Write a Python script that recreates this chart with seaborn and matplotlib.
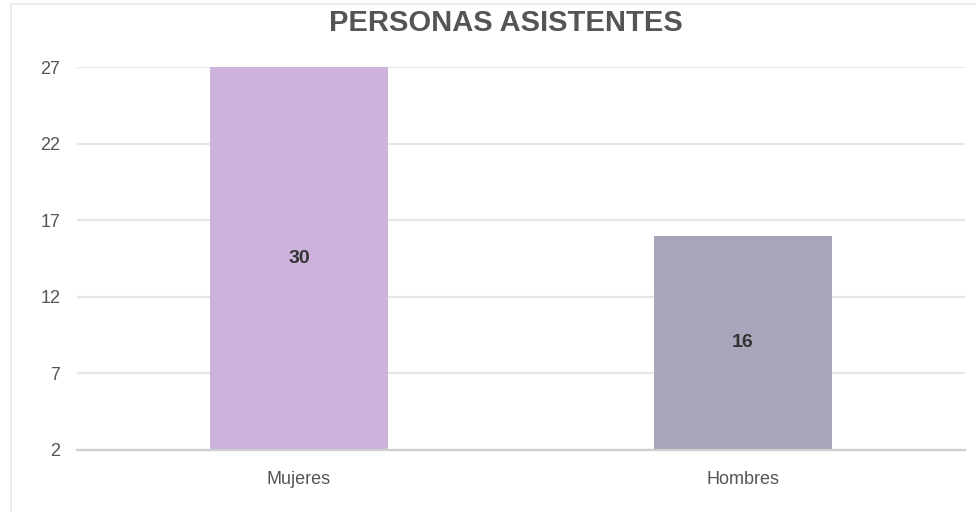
import matplotlib.pyplot as plt
import pandas as pd
import seaborn as sns
from matplotlib.lines import Line2D

# Data
categories = ["Mujeres", "Hombres"]
values = [30, 16]
bar_colors = ["#cdb3dc", "#a8a5ba"]
y_ticks = [2, 7, 12, 17, 22, 27]
y_min, y_max = 2, 27

sns.set_theme(style="white")
plt.rcParams["font.family"] = ["Liberation Sans", "DejaVu Sans"]

df = pd.DataFrame({"Genero": categories, "Personas": values})

fig = plt.figure(figsize=(9.76, 5.12), dpi=100)
ax = fig.add_axes([77 / 976, 1 - 450 / 512, (965 - 77) / 976, (450 - 67) / 512])

sns.barplot(
    data=df, x="Genero", y="Personas", hue="Genero",
    palette=bar_colors, width=0.40, saturation=1, linewidth=0,
    legend=False, ax=ax, zorder=3,
)
ax.set_ylim(y_min, y_max)
ax.set_xlim(-0.5, len(categories) - 0.5)
ax.set_yticks(y_ticks)
ax.set_yticklabels([str(t) for t in y_ticks])
ax.yaxis.grid(True, color="#e6e6e6", linewidth=1.6, zorder=0)
ax.set_axisbelow(True)
for side in ["top", "right", "left"]:
    ax.spines[side].set_visible(False)
ax.spines["bottom"].set_color("#cfcfcf")
ax.spines["bottom"].set_linewidth(1.6)
ax.spines["bottom"].set_zorder(4)
ax.tick_params(axis="y", length=0, pad=12, labelsize=13, labelcolor="#555555")
ax.tick_params(axis="x", length=0, pad=15, labelsize=13, labelcolor="#555555")
ax.set_xlabel("")
ax.set_ylabel("")

# value labels centred in the visible part of each bar
for i, v in enumerate(values):
    top = min(v, y_max)
    ax.text(i, (top + y_min) / 2, str(v), ha="center", va="center",
            fontsize=14, fontweight="bold", color="#333333", zorder=5)

fig.text(0.518, 1 - 23 / 512, "PERSONAS ASISTENTES", ha="center", va="center",
         fontsize=21, fontweight="bold", color="#555555")

# light frame on the top and left edges
fig.add_artist(Line2D([11 / 976, 1], [1 - 4 / 512, 1 - 4 / 512],
                      color="#ececec", linewidth=1.5))
fig.add_artist(Line2D([11 / 976, 11 / 976], [0, 1 - 4 / 512],
                      color="#ececec", linewidth=1.5))

fig.savefig("out.png", dpi=100)
